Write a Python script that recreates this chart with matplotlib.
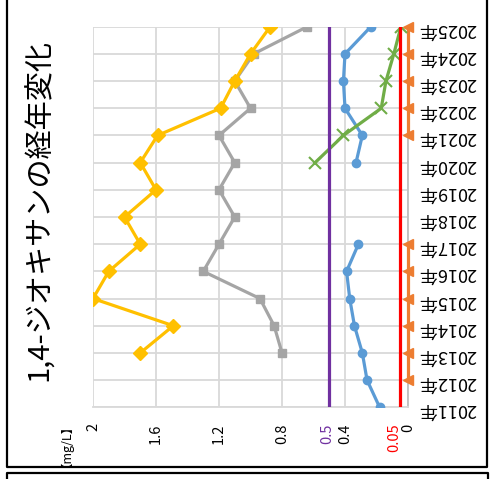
import numpy as np
import matplotlib
matplotlib.use('Agg')
import matplotlib.pyplot as plt
from matplotlib.lines import Line2D

plt.rcParams['font.family'] = ['Noto Sans CJK JP', 'DejaVu Sans']

nan = np.nan
years = list(range(2011, 2026))
year_labels = [str(y) + '年' for y in years]

# 値は画像から読み取り (mg/L)
blue = [0.18, 0.26, 0.29, 0.34, 0.37, 0.39, 0.315, nan, nan, 0.33, 0.29, 0.40, 0.41, 0.40, 0.236]
orange = [nan, 0, 0, 0, 0, 0, 0, nan, nan, nan, 0, 0, 0, 0, 0]
gray = [nan, nan, 0.80, 0.85, 0.94, 1.30, 1.20, 1.10, 1.20, 1.10, 1.20, 1.00, 1.10, 0.98, 0.64]
yellow = [nan, nan, 1.70, 1.49, 2.00, 1.90, 1.70, 1.80, 1.60, 1.70, 1.59, 1.19, 1.10, 1.00, 0.875]
green = [nan, nan, nan, nan, nan, nan, nan, nan, nan, 0.59, 0.41, 0.17, 0.14, 0.09, 0.045]

value_ticks = [2, 1.6, 1.2, 0.8, 0.4, 0]
value_labels = ['2', '1.6', '1.2', '0.8', '0.4', '0']
ref_lines = [(0.5, '0.5', '#7030A0', -1.5), (0.05, '0.05', '#FF0000', -4)]

fig = plt.figure(figsize=(4.9, 4.79), dpi=100)
ax = fig.add_axes([93/490, 71.7/479, 315/490, 380.6/479])

ax.plot(blue, years, color='#5B9BD5', lw=2.3, marker='o', ms=6, zorder=3)
ax.plot(orange, years, color='#ED7D31', lw=2.3, marker='<', ms=7.5, zorder=3, clip_on=False)
ax.plot(gray, years, color='#A5A5A5', lw=2.3, marker='s', ms=5.5, zorder=3)
ax.plot(yellow, years, color='#FFC000', lw=2.3, marker='D', ms=7.5, zorder=4)
ax.plot(green, years, color='#70AD47', lw=2.3, marker='x', ms=8, mew=1.5, zorder=4)

for v, lab, c, dx in ref_lines:
    ax.axvline(v, color=c, lw=2.3, zorder=5)
    ax.annotate(lab, xy=(v, 0), xycoords=('data', 'axes fraction'),
                xytext=(dx, -11.5), textcoords='offset points',
                rotation=90, ha='center', va='top', color=c, fontsize=10.5)

ax.set_xlim(2, 0)
ax.set_ylim(2011, 2025)
ax.set_xticks(value_ticks)
ax.set_xticklabels(value_labels, rotation=90, fontsize=10.5)
ax.set_yticks(years)
ax.set_yticklabels(year_labels, rotation=180, fontsize=13)
ax.yaxis.tick_right()
ax.tick_params(axis='x', length=0, pad=11.5)
ax.tick_params(axis='y', length=0, pad=7.5)
ax.grid(True, color='#D9D9D9', lw=1.3)
ax.set_axisbelow(True)
for s in ['left', 'top']:
    ax.spines[s].set_visible(False)
ax.spines['bottom'].set_color('#D9D9D9')
ax.spines['bottom'].set_linewidth(1.3)
ax.spines['right'].set_color('#BFBFBF')
ax.spines['right'].set_linewidth(1.3)

fig.text(40/490, 1 - 210/479, '1,4-ジオキサンの経年変化', rotation=90,
         ha='center', va='center', fontsize=21)
fig.text(60/490, 1 - 439/479, '【mg/L】', rotation=90,
         ha='center', va='center', fontsize=9)

# 枠線
W, H = 490, 479
def seg(xs, ys):
    fig.add_artist(Line2D([x/W for x in xs], [1 - y/H for y in ys],
                          color='black', lw=1.6, transform=fig.transFigure))
seg([6.5, 6.5, 486.5, 486.5], [-5, 467, 467, -5])
seg([7, 7, 488, 488], [485, 473, 473, 485])

fig.savefig('out.png', dpi=100)
